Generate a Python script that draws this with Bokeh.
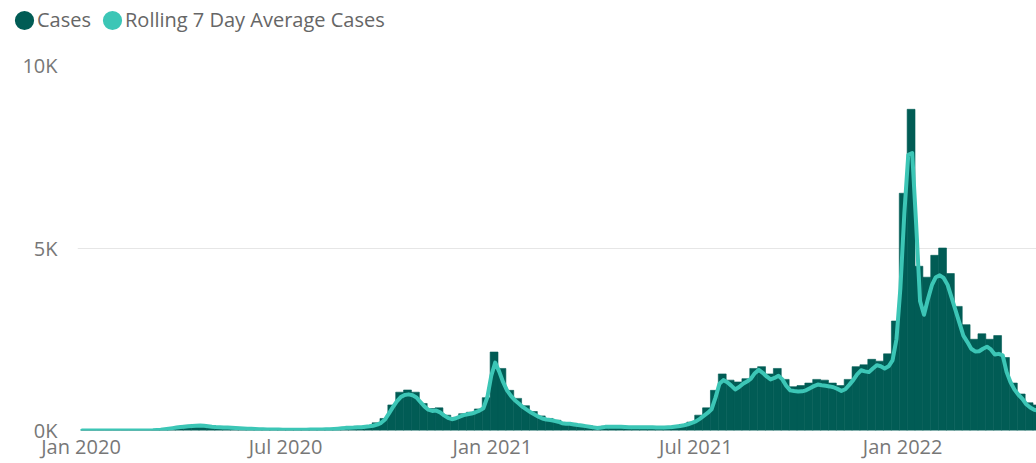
import numpy as np
import pandas as pd
from bokeh.plotting import figure
from bokeh.layouts import column
from bokeh.models import (ColumnDataSource, FixedTicker, Legend, LegendItem,
                          CustomJSTickFormatter, Range1d)
from bokeh.embed import file_html
from bokeh.resources import INLINE

# ---------------- data ----------------
# weekly daily-case level, weeks starting 2020-01-01
week_start = "2020-01-01"
cases = [0, 0, 0, 0, 0, 0, 0, 0, 0, 5,
         25, 70, 110, 140, 165, 150, 120, 100, 85, 75,
         60, 50, 40, 33, 28, 25, 22, 22, 25, 28,
         33, 40, 55, 80, 85, 95, 130, 210, 330, 700,
         1050, 1110, 1050, 740, 600, 620, 420, 340, 460, 500,
         590, 900, 2150, 1700, 1100, 880, 680, 520, 400, 330,
         280, 215, 195, 165, 130, 90, 115, 120, 115, 105,
         100, 100, 100, 92, 100, 125, 165, 230, 420, 620,
         1100, 1550, 1380, 1330, 1420, 1700, 1750, 1550, 1700, 1400,
         1200, 1230, 1300, 1400, 1380, 1300, 1230, 1400, 1750, 1800,
         1950, 1900, 2100, 3000, 6500, 8800, 4500, 4200, 4800, 5000,
         4300, 3400, 2900, 2500, 2650, 2500, 2600, 2000, 1300, 1000,
         760, 700]

# rolling 7 day average, sampled every 3.5 days from 2020-01-02
avg_start = "2020-01-02"
rolling_avg = [0, 0, 0, 0, 0, 0, 0, 0, 0, 0,
               0, 0, 0, 0, 0, 0, 0, 3, 6, 12,
               20, 35, 50, 65, 80, 95, 105, 115, 125, 130,
               135, 130, 118, 105, 95, 90, 85, 80, 75, 70,
               62, 55, 50, 45, 40, 36, 33, 30, 28, 26,
               24, 22, 21, 20, 20, 20, 21, 22, 24, 26,
               28, 30, 33, 36, 42, 50, 60, 72, 75, 80,
               88, 92, 105, 115, 130, 160, 210, 300, 470, 640,
               800, 915, 975, 990, 965, 905, 780, 660, 570, 535,
               545, 495, 415, 345, 310, 335, 380, 420, 445, 465,
               500, 545, 610, 910, 1500, 1860, 1620, 1330, 1100, 950,
               830, 740, 645, 570, 500, 440, 380, 330, 300, 287,
               265, 240, 200, 183, 183, 165, 148, 135, 120, 105,
               85, 67, 80, 100, 105, 100, 100, 100, 95, 92,
               90, 90, 90, 90, 90, 88, 85, 80, 82, 88,
               95, 110, 125, 145, 170, 210, 250, 320, 400, 480,
               580, 900, 1280, 1380, 1322, 1230, 1125, 1190, 1280, 1340,
               1420, 1570, 1660, 1580, 1480, 1400, 1440, 1500, 1400, 1220,
               1100, 1080, 1068, 1072, 1100, 1160, 1215, 1259, 1240, 1225,
               1208, 1185, 1140, 1085, 1130, 1250, 1380, 1540, 1650, 1620,
               1600, 1700, 1790, 1760, 1700, 1760, 1920, 2500, 3900, 5950,
               7550, 7600, 5660, 3540, 3170, 3600, 3980, 4200, 4250, 4180,
               3990, 3650, 3300, 2950, 2600, 2430, 2240, 2165, 2170, 2240,
               2295, 2220, 2080, 2100, 2060, 1600, 1320, 1120, 980, 870,
               720, 630, 570, 545]

x_tick_dates = ["2020-01-01", "2020-07-01", "2021-01-01", "2021-07-01", "2022-01-01"]
y_ticks = [0, 5000, 10000]
y_tick_labels = ["0K", "5K", "10K"]
series_names = ["Cases", "Rolling 7 Day Average Cases"]

# ---------------- styling ----------------
BAR = "#015C55"
LINE = "#3CC6B6"
FONT = "Open Sans"
TICK_COLOR = "#777777"
DAY_MS = 86400000

bar_x = pd.Timestamp(week_start) + pd.to_timedelta(np.arange(len(cases)) * 7 + 3.5, unit="D")
line_x = pd.Timestamp(avg_start) + pd.to_timedelta(np.arange(len(rolling_avg)) * 3.5, unit="D")

# ---------------- main chart ----------------
p = figure(width=1036, height=423, x_axis_type="datetime",
           output_backend="svg", toolbar_location=None,
           x_range=Range1d(pd.Timestamp("2019-12-28 21:30"), pd.Timestamp("2022-04-30 02:00")),
           y_range=Range1d(0, 10000),
           min_border_left=77, min_border_right=0, min_border_top=25, min_border_bottom=33)
p.frame_align = False
p.outline_line_color = None
p.background_fill_color = "white"
p.border_fill_color = "white"

src_b = ColumnDataSource(dict(x=bar_x, y=cases))
p.vbar(x="x", top="y", width=7 * DAY_MS, source=src_b,
       fill_color=BAR, line_color=BAR, line_width=0.6)
src_l = ColumnDataSource(dict(x=line_x, y=rolling_avg))
p.line(x="x", y="y", source=src_l, line_color=LINE, line_width=4,
       line_join="round", line_cap="round")

p.xgrid.visible = False
p.ygrid.ticker = FixedTicker(ticks=y_ticks)
p.ygrid.grid_line_color = "#E6E6E6"
p.ygrid.grid_line_width = 1

p.yaxis.ticker = FixedTicker(ticks=y_ticks)
p.yaxis.major_label_overrides = {t: l for t, l in zip(y_ticks, y_tick_labels)}
p.xaxis.ticker = FixedTicker(ticks=[int(pd.Timestamp(d).value // 10**6) for d in x_tick_dates])
p.xaxis.formatter = CustomJSTickFormatter(code="""
const m = ["Jan","Feb","Mar","Apr","May","Jun","Jul","Aug","Sep","Oct","Nov","Dec"];
const d = new Date(tick);
return m[d.getUTCMonth()] + " " + d.getUTCFullYear();
""")
for ax in (p.xaxis, p.yaxis):
    ax.axis_line_color = None
    ax.major_tick_line_color = None
    ax.minor_tick_line_color = None
    ax.major_tick_in = 0
    ax.major_tick_out = 0
    ax.major_label_text_font = FONT
    ax.major_label_text_font_size = "20px"
    ax.major_label_text_color = TICK_COLOR
p.yaxis.major_label_standoff = 20
p.xaxis.major_label_standoff = 2
p.xaxis.major_label_text_line_height = 1.0

# ---------------- legend strip ----------------
lf = figure(width=1036, height=40, output_backend="svg", toolbar_location=None,
            x_range=Range1d(0, 1), y_range=Range1d(0, 1),
            x_axis_location=None, y_axis_location=None,
            min_border_left=0, min_border_right=0, min_border_top=0, min_border_bottom=0)
lf.frame_align = False
lf.outline_line_color = None
lf.xgrid.visible = False
lf.ygrid.visible = False
# off-range points: only their legend swatches are shown
r1 = lf.ellipse(x=[-10], y=[-10], width=10, height=10, width_units="screen",
                height_units="screen", fill_color=BAR, line_color=None)
r2 = lf.ellipse(x=[-10], y=[-10], width=10, height=10, width_units="screen",
                height_units="screen", fill_color=LINE, line_color=None)
legend = Legend(items=[LegendItem(label=series_names[0], renderers=[r1]),
                       LegendItem(label=series_names[1], renderers=[r2])],
                location=(12, 7), orientation="horizontal",
                glyph_width=24, glyph_height=24, label_standoff=1, spacing=9,
                padding=0, margin=0, border_line_color=None, background_fill_alpha=0,
                label_text_font=FONT, label_text_font_size="20px",
                label_text_color="#666666", label_text_baseline="middle")
lf.add_layout(legend)

layout = column(lf, p, spacing=0)
open("out.html", "w").write(file_html(layout, INLINE))
